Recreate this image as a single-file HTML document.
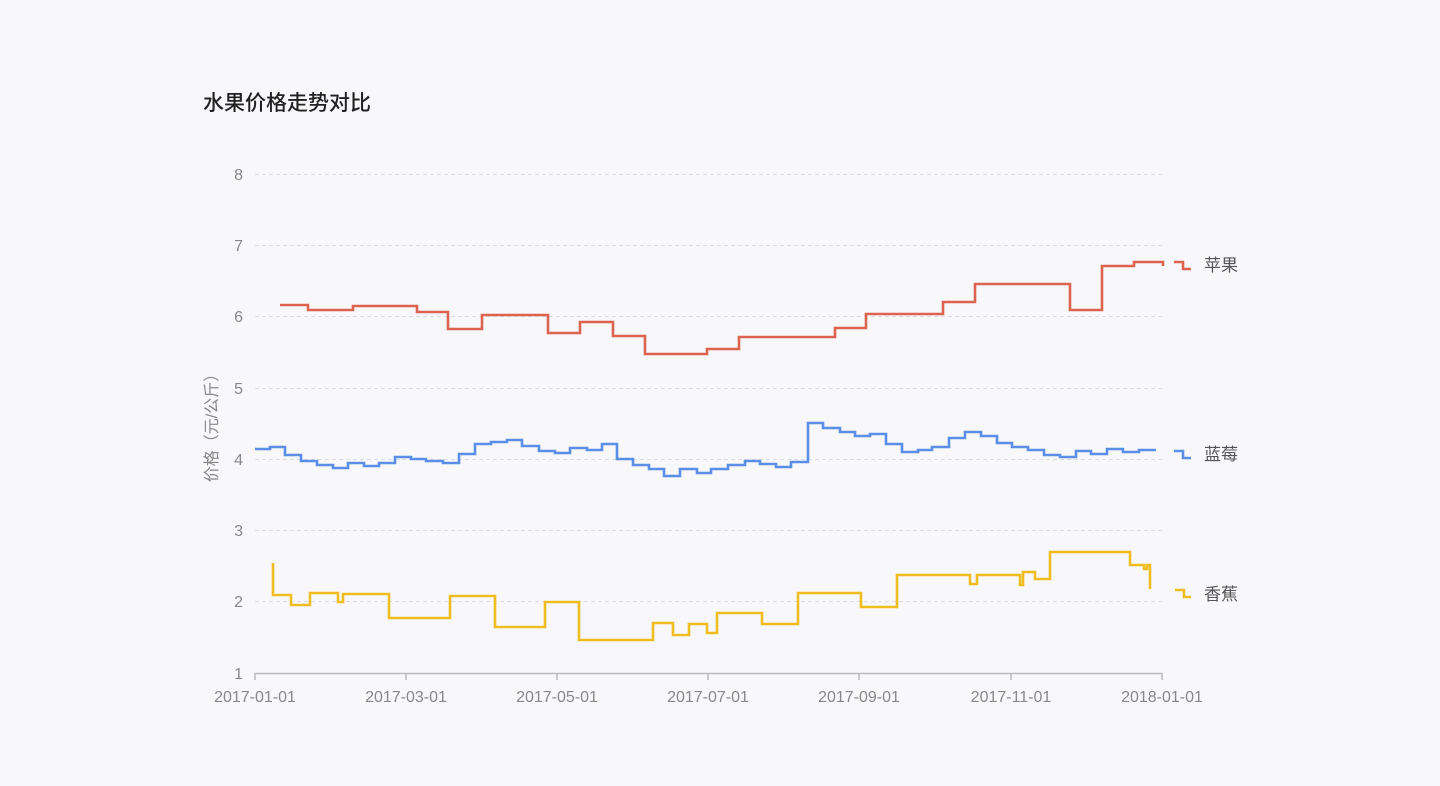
<!DOCTYPE html>
<html><head><meta charset="utf-8"><style>
html,body{margin:0;padding:0;background:#f8f8fa;}
svg{display:block;font-family:"Liberation Sans","Noto Sans CJK SC",sans-serif;}
</style></head><body>
<svg width="1440" height="786" viewBox="0 0 1440 786" xmlns="http://www.w3.org/2000/svg">
<rect width="1440" height="786" fill="#f8f8fa"/>
<text x="203" y="110" font-size="21" fill="#222" font-weight="500">水果价格走势对比</text>
<g stroke="#dcdde2" stroke-width="1" stroke-dasharray="4,3">
<line x1="255" y1="174.5" x2="1162" y2="174.5"/>
<line x1="255" y1="245.5" x2="1162" y2="245.5"/>
<line x1="255" y1="316.5" x2="1162" y2="316.5"/>
<line x1="255" y1="388.5" x2="1162" y2="388.5"/>
<line x1="255" y1="459.5" x2="1162" y2="459.5"/>
<line x1="255" y1="530.5" x2="1162" y2="530.5"/>
<line x1="255" y1="601.5" x2="1162" y2="601.5"/>
</g>
<g font-size="16" fill="#888" text-anchor="end">
<text x="243" y="180">8</text><text x="243" y="251">7</text><text x="243" y="322">6</text>
<text x="243" y="394">5</text><text x="243" y="465">4</text><text x="243" y="536">3</text>
<text x="243" y="607">2</text><text x="243" y="679">1</text>
</g>
<text transform="translate(217,424) rotate(-90)" font-size="16" fill="#888" text-anchor="middle">价格（元/公斤）</text>
<g stroke="#bbb" stroke-width="1.5">
<line x1="255" y1="673.5" x2="1162" y2="673.5"/>
<line x1="255" y1="673" x2="255" y2="680"/><line x1="406" y1="673" x2="406" y2="680"/>
<line x1="557" y1="673" x2="557" y2="680"/><line x1="708" y1="673" x2="708" y2="680"/>
<line x1="859" y1="673" x2="859" y2="680"/><line x1="1011" y1="673" x2="1011" y2="680"/>
<line x1="1162" y1="673" x2="1162" y2="680"/>
</g>
<g font-size="16" fill="#888" text-anchor="middle">
<text x="255" y="702">2017-01-01</text><text x="406" y="702">2017-03-01</text>
<text x="557" y="702">2017-05-01</text><text x="708" y="702">2017-07-01</text>
<text x="859" y="702">2017-09-01</text><text x="1011" y="702">2017-11-01</text>
<text x="1162" y="702">2018-01-01</text>
</g>
<g fill="none" stroke-width="2.6" stroke-linejoin="miter">
<path stroke="#dd6351" d="M280,305 H308 V310 H353 V306 H417 V312 H448 V329 H482 V315 H548 V333 H580 V322 H613 V336 H645 V354 H707 V349 H739 V337 H835 V328 H866 V314 H943 V302 H975 V284 H1070 V310 H1102 V266 H1134 V262 H1163 V266"/>
<path stroke="#dd6351" d="M1174,262 H1183 V269 H1191"/>
<path stroke="#5b8ee6" d="M255,449 H270 V447 H285 V455 H301 V461 H317 V465 H333 V468 H348 V463 H364 V466 H379 V463 H395 V457 H411 V459 H426 V461 H443 V463 H459 V454 H475 V444 H491 V442 H507 V440 H522 V446 H539 V451 H555 V453 H570 V448 H587 V450 H602 V444 H617 V459 H633 V465 H649 V469 H664 V476 H680 V469 H697 V473 H711 V469 H728 V465 H745 V461 H760 V464 H776 V467 H791 V462 H808 V423 H823 V428 H840 V432 H855 V436 H870 V434 H886 V444 H902 V452 H918 V450 H932 V447 H949 V438 H965 V432 H981 V436 H997 V443 H1012 V447 H1028 V450 H1044 V455 H1060 V457 H1076 V451 H1091 V454 H1107 V449 H1123 V452 H1139 V450 H1156"/>
<path stroke="#5b8ee6" d="M1174,451 H1183 V458 H1191"/>
<path stroke="#f0bd20" d="M273,563 V595 H291 V605 H310 V593 H338 V602 H343 V594 H389 V618 H450 V596 H495 V627 H545 V602 H579 V640 H653 V623 H673 V635 H689 V624 H707 V633 H717 V613 H762 V624 H798 V593 H861 V607 H897 V575 H970 V584 H977 V575 H1020 V585 H1023 V572 H1035 V579 H1050 V552 H1130 V565 H1144 V569 H1147 V565 H1150 V589"/>
<path stroke="#f0bd20" d="M1175,590 H1184 V597 H1191"/>
</g>
<g font-size="17" fill="#555">
<text x="1204" y="271">苹果</text>
<text x="1204" y="460">蓝莓</text>
<text x="1204" y="600">香蕉</text>
</g>
</svg>
</body></html>
